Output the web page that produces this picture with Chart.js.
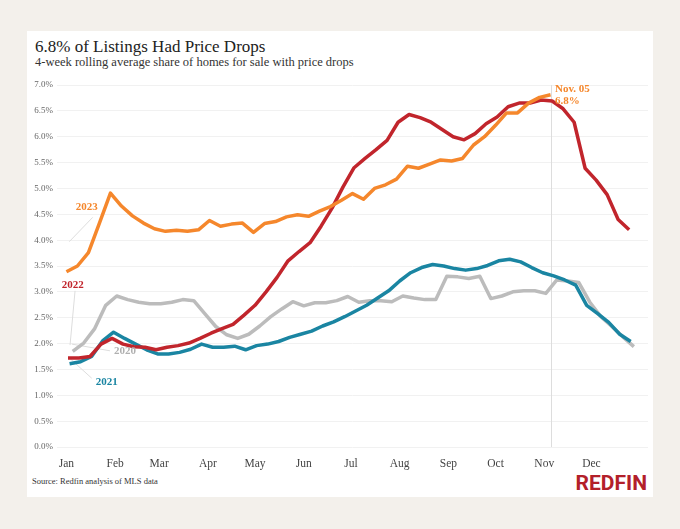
<!DOCTYPE html>
<html>
<head>
<meta charset="utf-8">
<script src="https://cdn.jsdelivr.net/npm/chart.js@4.4.0/dist/chart.umd.min.js"></script>
<style>
html, body { margin: 0; padding: 0; background: #f3f0eb; }
#page { position: relative; width: 680px; height: 529px; overflow: hidden; }
#card { position: absolute; left: 27px; top: 31px; width: 626px; height: 466px; background: #fff; }
.t { position: absolute; font-family: 'Liberation Serif', 'Times New Roman', serif; white-space: nowrap; }
#title { left: 35px; top: 37.5px; font-size: 17px; line-height: 17px; color: #222; }
#subtitle { left: 35px; top: 56px; font-size: 12.5px; line-height: 12.5px; color: #333; }
#source { left: 32px; top: 477px; font-size: 8.5px; line-height: 8.5px; color: #333; }
#logo { position: absolute; right: 33px; top: 473px; font-family: Roboto, sans-serif; font-weight: bold;
        font-size: 21px; line-height: 21px; color: #b3202a; }
canvas { position: absolute; left: 0; top: 0; }
</style>
</head>
<body>
<div id="page">
  <div id="card"></div>
  <div class="t" id="title">6.8% of Listings Had Price Drops</div>
  <div class="t" id="subtitle">4-week rolling average share of homes for sale with price drops</div>
  <div class="t" id="source">Source: Redfin analysis of MLS data</div>
  <div id="logo">REDFIN</div>
  <canvas id="chart" width="680" height="529"></canvas>
</div>
<script>
// month ticks (day of year where each month starts)
var months = ["Jan", "Feb", "Mar", "Apr", "May", "Jun", "Jul", "Aug", "Sep", "Oct", "Nov", "Dec"];
var monthStarts = [0, 31, 59, 90, 120, 151, 181, 212, 243, 273, 304, 334];

// first week of each series (weekly data after that)
var start2020 = "2020-01-05";
var start2021 = "2021-01-03";
var start2022 = "2022-01-02";
var start2023 = "2023-01-01";

// share of listings with a price drop, %
var drops2023 = [3.39, 3.50, 3.76, 4.33, 4.91, 4.66, 4.47, 4.33, 4.22, 4.17,
                 4.19, 4.17, 4.20, 4.38, 4.27, 4.31, 4.33, 4.15, 4.32, 4.36,
                 4.45, 4.49, 4.46, 4.56, 4.65, 4.77, 4.90, 4.79, 5.00, 5.07,
                 5.18, 5.43, 5.39, 5.47, 5.55, 5.53, 5.58, 5.84, 6.00, 6.22,
                 6.46, 6.46, 6.65, 6.76, 6.81];
var drops2022 = [1.72, 1.72, 1.75, 1.99, 2.10, 1.99, 1.94, 1.93, 1.88, 1.93,
                 1.96, 2.01, 2.10, 2.20, 2.29, 2.37, 2.55, 2.74, 3.00, 3.28,
                 3.60, 3.78, 3.95, 4.27, 4.62, 5.03, 5.40, 5.58, 5.75, 5.93,
                 6.28, 6.43, 6.37, 6.28, 6.14, 6.00, 5.94, 6.06, 6.25, 6.38,
                 6.58, 6.65, 6.65, 6.71, 6.69, 6.54, 6.28, 5.39, 5.16, 4.88,
                 4.40, 4.20];
var drops2021 = [1.61, 1.65, 1.75, 2.05, 2.22, 2.10, 1.99, 1.88, 1.80, 1.80,
                 1.83, 1.89, 1.99, 1.93, 1.93, 1.95, 1.88, 1.96, 1.99, 2.04,
                 2.12, 2.18, 2.24, 2.34, 2.42, 2.52, 2.63, 2.74, 2.88, 3.02,
                 3.21, 3.37, 3.47, 3.53, 3.50, 3.45, 3.42, 3.45, 3.51, 3.60,
                 3.63, 3.58, 3.47, 3.37, 3.31, 3.23, 3.13, 2.74, 2.58, 2.41,
                 2.18, 2.04];
var drops2020 = [1.85, 2.01, 2.29, 2.74, 2.92, 2.85, 2.80, 2.77, 2.77, 2.80,
                 2.85, 2.83, 2.58, 2.33, 2.17, 2.10, 2.18, 2.34, 2.52, 2.67,
                 2.81, 2.73, 2.79, 2.79, 2.83, 2.91, 2.80, 2.83, 2.83, 2.81,
                 2.92, 2.88, 2.85, 2.85, 3.30, 3.29, 3.26, 3.30, 2.87, 2.92,
                 3.00, 3.02, 3.02, 2.97, 3.23, 3.21, 3.18, 2.80, 2.52, 2.33,
                 2.13, 1.94];

var ORANGE = "#f5872c", RED = "#c1252c", TEAL = "#1a85a2", GRAY = "#bcbcbc";
var SERIF = "'Liberation Serif', 'Times New Roman', serif";

function dayOfYear(iso) {
    var p = iso.split("-").map(Number);
    return (Date.UTC(p[0], p[1] - 1, p[2]) - Date.UTC(p[0], 0, 1)) / 86400000;
}

function weekly(start, values) {
    var d0 = dayOfYear(start);
    return values.map(function(v, i) { return { x: d0 + 7 * i, y: v }; });
}

var lastDay2023 = dayOfYear(start2023) + 7 * (drops2023.length - 1);
var lastValue2023 = drops2023[drops2023.length - 1];

// year labels with their leader lines, in chart units (day, %)
var yearNotes = [
    { text: "2023", color: ORANGE, at: [12.9, 4.64], from: [1.8, 3.97], to: [16.7, 4.44] },
    { text: "2022", color: RED, at: [4.0, 3.12], from: [5.5, 3.02], to: [2.3, 1.97] },
    { text: "2020", color: "#b0b0b0", at: [37.3, 1.85], from: [3.4, 1.99], to: [27.7, 1.86] },
    { text: "2021", color: TEAL, at: [25.6, 1.26], from: [2.3, 1.71], to: [16.1, 1.33] }
];

var notesPlugin = {
    id: "notes",
    beforeDatasetsDraw: function(chart) {
        var ctx = chart.ctx, xs = chart.scales.x, ys = chart.scales.y, a = chart.chartArea;
        ctx.save();
        ctx.strokeStyle = "#dddddd";
        ctx.lineWidth = 1;
        var vx = Math.round(xs.getPixelForValue(lastDay2023)) + 0.5;
        ctx.beginPath();
        ctx.moveTo(vx, a.top);
        ctx.lineTo(vx, a.bottom);
        ctx.stroke();
        yearNotes.forEach(function(n) {
            ctx.beginPath();
            ctx.moveTo(xs.getPixelForValue(n.from[0]), ys.getPixelForValue(n.from[1]));
            ctx.lineTo(xs.getPixelForValue(n.to[0]), ys.getPixelForValue(n.to[1]));
            ctx.stroke();
        });
        ctx.restore();
    },
    afterDatasetsDraw: function(chart) {
        var ctx = chart.ctx, xs = chart.scales.x, ys = chart.scales.y;
        ctx.save();
        ctx.font = "bold 11px " + SERIF;
        ctx.textAlign = "center";
        ctx.textBaseline = "middle";
        yearNotes.forEach(function(n) {
            ctx.fillStyle = n.color;
            ctx.fillText(n.text, xs.getPixelForValue(n.at[0]), ys.getPixelForValue(n.at[1]));
        });
        ctx.fillStyle = ORANGE;
        ctx.textAlign = "left";
        var lx = xs.getPixelForValue(lastDay2023 + 2.8);
        ctx.fillText("Nov. 05", lx, ys.getPixelForValue(6.92));
        ctx.fillText(lastValue2023.toFixed(1) + "%", lx, ys.getPixelForValue(6.69));
        ctx.restore();
    }
};

function line(label, color, start, values) {
    return {
        label: label,
        data: weekly(start, values),
        borderColor: color,
        backgroundColor: color,
        borderWidth: 3.5,
        pointRadius: 0,
        tension: 0,
        borderJoinStyle: "round"
    };
}

new Chart(document.getElementById("chart"), {
    type: "line",
    data: {
        datasets: [
            line("2023", ORANGE, start2023, drops2023),
            line("2022", RED, start2022, drops2022),
            line("2021", TEAL, start2021, drops2021),
            line("2020", GRAY, start2020, drops2020)
        ]
    },
    options: {
        responsive: false,
        animation: false,
        layout: { padding: { left: 0, right: 32, top: 85, bottom: 52 } },
        plugins: { legend: { display: false }, tooltip: { enabled: false } },
        scales: {
            x: {
                type: "linear",
                min: -6,
                max: 370,
                grid: { display: false },
                border: { display: false },
                afterBuildTicks: function(s) {
                    s.ticks = monthStarts.map(function(v) { return { value: v }; });
                },
                afterFit: function(s) { s.height = 30; },
                ticks: {
                    autoSkip: false,
                    maxRotation: 0,
                    padding: 2,
                    color: "#444",
                    font: { family: SERIF, size: 11.5 },
                    callback: function(v) { return months[monthStarts.indexOf(v)]; }
                }
            },
            y: {
                min: 0,
                max: 7,
                grid: { color: "#f1f1f1", drawTicks: false },
                border: { display: false },
                afterFit: function(s) { s.width = 57; },
                ticks: {
                    stepSize: 0.5,
                    padding: 4,
                    color: "#666",
                    font: { family: SERIF, size: 9 },
                    callback: function(v) { return v.toFixed(1) + "%"; }
                }
            }
        }
    },
    plugins: [notesPlugin]
});
</script>
</body>
</html>
